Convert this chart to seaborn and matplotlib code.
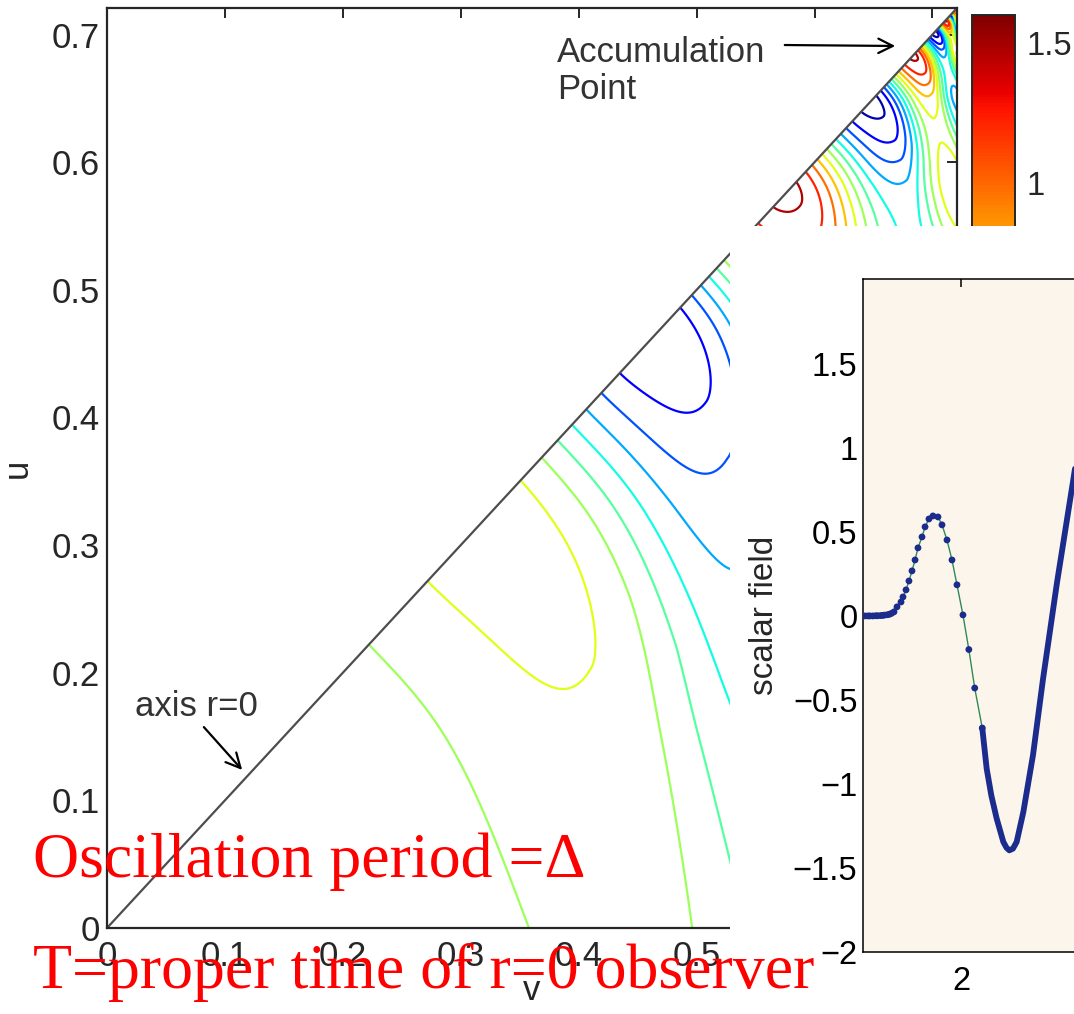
import numpy as np
import pandas as pd
import matplotlib
matplotlib.use("Agg")
import matplotlib.pyplot as plt
import seaborn as sns
from matplotlib.colors import Normalize
from matplotlib.cm import ScalarMappable
from matplotlib.patches import Rectangle
from matplotlib.ticker import FuncFormatter, FixedLocator

# ---------------------------------------------------------------
# Scalar field at the centre r = 0 against proper time T
# ---------------------------------------------------------------
sparse_T = [1.902, 1.905, 1.907, 1.910, 1.913, 1.915, 1.918, 1.920, 1.922, 1.925,
            1.927, 1.929, 1.9316, 1.9347, 1.9388, 1.9408, 1.9439, 1.9469, 1.9500,
            1.9531, 1.9561, 1.9602, 1.9633, 1.9673, 1.9714, 1.9765, 1.9806, 1.9857,
            1.9908, 1.9959, 2.0020, 2.0080, 2.0140, 2.0217]
sparse_phi = [0.0, 0.0, 0.0, 0.0, 0.001, 0.001, 0.002, 0.003, 0.005, 0.007,
              0.010, 0.015, 0.024, 0.054, 0.083, 0.113, 0.155, 0.208, 0.268,
              0.333, 0.405, 0.470, 0.530, 0.577, 0.595, 0.589, 0.542, 0.452,
              0.333, 0.185, 0.006, -0.200, -0.429, -0.667]
dense_T = [2.0217, 2.0262, 2.0310, 2.0364, 2.0432, 2.0465, 2.0493, 2.0530, 2.0568,
           2.0636, 2.0735, 2.0837, 2.0980, 2.1143, 2.1250]
dense_phi = [-0.667, -0.909, -1.070, -1.206, -1.345, -1.380, -1.395, -1.385, -1.345,
             -1.167, -0.827, -0.375, 0.200, 0.800, 1.200]
inset_yticks = [-2, -1.5, -1, -0.5, 0, 0.5, 1, 1.5]
inset_xticks = [2.0, 2.5, 3.0]

# ---------------------------------------------------------------
# Field in null coordinates (v, u).  Extrema of the echoes on the axis u = v,
# and how far (in v - u) each echo reaches away from the axis.
# ---------------------------------------------------------------
echo_u = [0.000, 0.148, 0.327, 0.466, 0.577, 0.648, 0.684, 0.702, 0.711,
          0.7155, 0.718, 0.7195, 0.7208]
echo_phi = [0.0, 0.0, 0.60, -1.25, 1.55, -1.38, 1.52, -1.38, 1.50,
            -1.35, 1.30, -1.00, 0.0]
echo_reach = [0.90, 0.90, 0.46, 0.235, 0.12, 0.10, 0.055, 0.03, 0.018,
              0.012, 0.008, 0.005, 0.004]
u_star = 0.7208            # accumulation point on the axis
contour_levels = [-1.28, -1.03, -0.78, -0.53, -0.28, -0.03, 0.22, 0.47,
                  0.72, 0.97, 1.22, 1.47]
field_range = (-1.4, 1.6)
uv_ticks = [0, 0.1, 0.2, 0.3, 0.4, 0.5, 0.6, 0.7]
cbar_ticks = [-1, -0.5, 0, 0.5, 1, 1.5]


def axis_profile(t):
    """Smooth half-cosine passage between consecutive extrema."""
    eu = np.asarray(echo_u)
    ep = np.asarray(echo_phi)
    t = np.clip(t, eu[0], eu[-1] - 1e-9)
    i = np.clip(np.searchsorted(eu, t, side="right") - 1, 0, len(eu) - 2)
    s = (t - eu[i]) / (eu[i + 1] - eu[i])
    return ep[i] + (ep[i + 1] - ep[i]) * (1 - np.cos(np.pi * s)) / 2


n = 700
vv = np.linspace(0, u_star, n)
uu = np.linspace(0, u_star, n)
V, U = np.meshgrid(vv, uu)
R = V - U
L_mid = np.minimum(np.interp((U + V) / 2, echo_u, echo_reach), 0.42)
s_lean = 0.39 * L_mid
delta = 0.2 * R + 0.3 * s_lean * np.tanh(R / s_lean)
T = V - delta                     # retarded position along the axis
L = np.interp(T, echo_u, echo_reach)
G = 1.0 / (1.0 + (R / L) ** 1.5)
PHI = axis_profile(T) * G + 0.3 * (1 - G) * axis_profile(U)
PHI = np.where(R >= 0, PHI, np.nan)

# ---------------------------------------------------------------
# Figure
# ---------------------------------------------------------------
sns.set_style("white")
plt.rcParams["font.family"] = ["Liberation Sans", "DejaVu Sans"]

W, H = 1074, 1014
fig = plt.figure(figsize=(W / 100, H / 100), dpi=100)
fig.patch.set_facecolor("white")


def fx(px):
    return px / W


def fy(py):
    return 1 - py / H


fmt = FuncFormatter(lambda x, pos: ("%g" % x).replace("-", "\u2212"))
norm = Normalize(*field_range)
cmap = plt.get_cmap("jet")

# main contour panel
ax = fig.add_axes([fx(107), fy(928), fx(957) - fx(107), fy(8) - fy(928)])
ax.contour(V, U, PHI, levels=contour_levels, cmap=cmap, norm=norm,
           linewidths=1.6)
ax.plot([0, u_star], [0, u_star], color="0.3", lw=1.6)
ax.set_xlim(0, u_star)
ax.set_ylim(0, u_star)
ax.xaxis.set_major_locator(FixedLocator(uv_ticks))
ax.yaxis.set_major_locator(FixedLocator(uv_ticks))
ax.xaxis.set_major_formatter(fmt)
ax.yaxis.set_major_formatter(fmt)
ax.tick_params(direction="in", top=True, right=True, length=7, width=1.4,
               labelsize=25, colors="0.15")
ax.tick_params(axis="x", pad=9)
ax.tick_params(axis="y", pad=5)
for sp in ax.spines.values():
    sp.set_linewidth(1.6)
    sp.set_color("0.15")
ax.set_xlabel("v", fontsize=25, color="0.15", labelpad=0)
ax.set_ylabel("u", fontsize=25, color="0.15", labelpad=13)

# colour bar
cax = fig.add_axes([fx(972), fy(854), fx(1015) - fx(972), fy(15) - fy(854)])
cb = fig.colorbar(ScalarMappable(norm=norm, cmap=cmap), cax=cax)
cb.set_ticks(cbar_ticks)
cb.ax.yaxis.set_major_formatter(fmt)
cb.outline.set_linewidth(1.4)
cb.ax.tick_params(axis="y", direction="in", left=True, right=True, length=7,
                  width=1.4, labelsize=23.5, pad=8, colors="0.15")

# annotations on the contour panel
fig.text(fx(557), fy(36), "Accumulation\nPoint", fontsize=25, color="0.2",
         va="top", ha="left", linespacing=1.15)
fig.text(fx(135), fy(716), "axis r=0", fontsize=25, color="0.2",
         va="baseline", ha="left")
arrow = dict(arrowstyle="->", color="black", lw=1.6, mutation_scale=26)
ax.annotate("", xy=(fx(898), fy(46)), xytext=(fx(782), fy(45)),
            xycoords="figure fraction", textcoords="figure fraction",
            arrowprops=arrow)
ax.annotate("", xy=(fx(244), fy(772)), xytext=(fx(202), fy(725)),
            xycoords="figure fraction", textcoords="figure fraction",
            arrowprops=arrow)

# white backing of the scalar-field panel
fig.patches.append(Rectangle((fx(730), 0), 1 - fx(730), fy(226), transform=fig.transFigure,
                             facecolor="white", edgecolor="none", zorder=1))

# scalar field panel
ins = fig.add_axes([fx(863), fy(952), 392 / W, fy(279) - fy(952)], zorder=2)
ins.set_facecolor("#fcf5eb")
line_df = pd.DataFrame({"T": sparse_T + dense_T[1:], "phi": sparse_phi + dense_phi[1:]})
sns.lineplot(data=line_df, x="T", y="phi", ax=ins, sort=False, estimator=None,
             color="#2f8a55", lw=1.0)
sns.lineplot(data=pd.DataFrame({"T": dense_T, "phi": dense_phi}), x="T", y="phi",
             ax=ins, sort=False, estimator=None, color="#1c2c8c", lw=4.2)
sns.scatterplot(data=pd.DataFrame({"T": sparse_T, "phi": sparse_phi}), x="T", y="phi",
                ax=ins, color="#1c2c8c", s=24, edgecolor="none", zorder=3)
ins.set_xlim(1.9, 2.3)
ins.set_ylim(-2, 2.005)
ins.xaxis.set_major_locator(FixedLocator(inset_xticks))
ins.yaxis.set_major_locator(FixedLocator(inset_yticks))
ins.xaxis.set_major_formatter(fmt)
ins.yaxis.set_major_formatter(fmt)
ins.tick_params(direction="in", top=True, right=True, length=6, width=1.1,
                labelsize=23.5, colors="black")
ins.tick_params(axis="x", pad=10)
ins.tick_params(axis="y", pad=4)
for sp in ins.spines.values():
    sp.set_linewidth(1.1)
    sp.set_color("black")
ins.set_xlabel("")
ins.set_ylabel("scalar field", fontsize=24, labelpad=9)

# red captions
cap = dict(color="red", fontsize=46, family=["Liberation Serif", "DejaVu Serif"],
           va="baseline", ha="left", zorder=5)
fig.text(fx(33), fy(877), "Oscillation period =\u0394", **cap)
fig.text(fx(33), fy(988), "T=proper time of r=0 observer", **cap)

fig.savefig("out.png", dpi=100)
